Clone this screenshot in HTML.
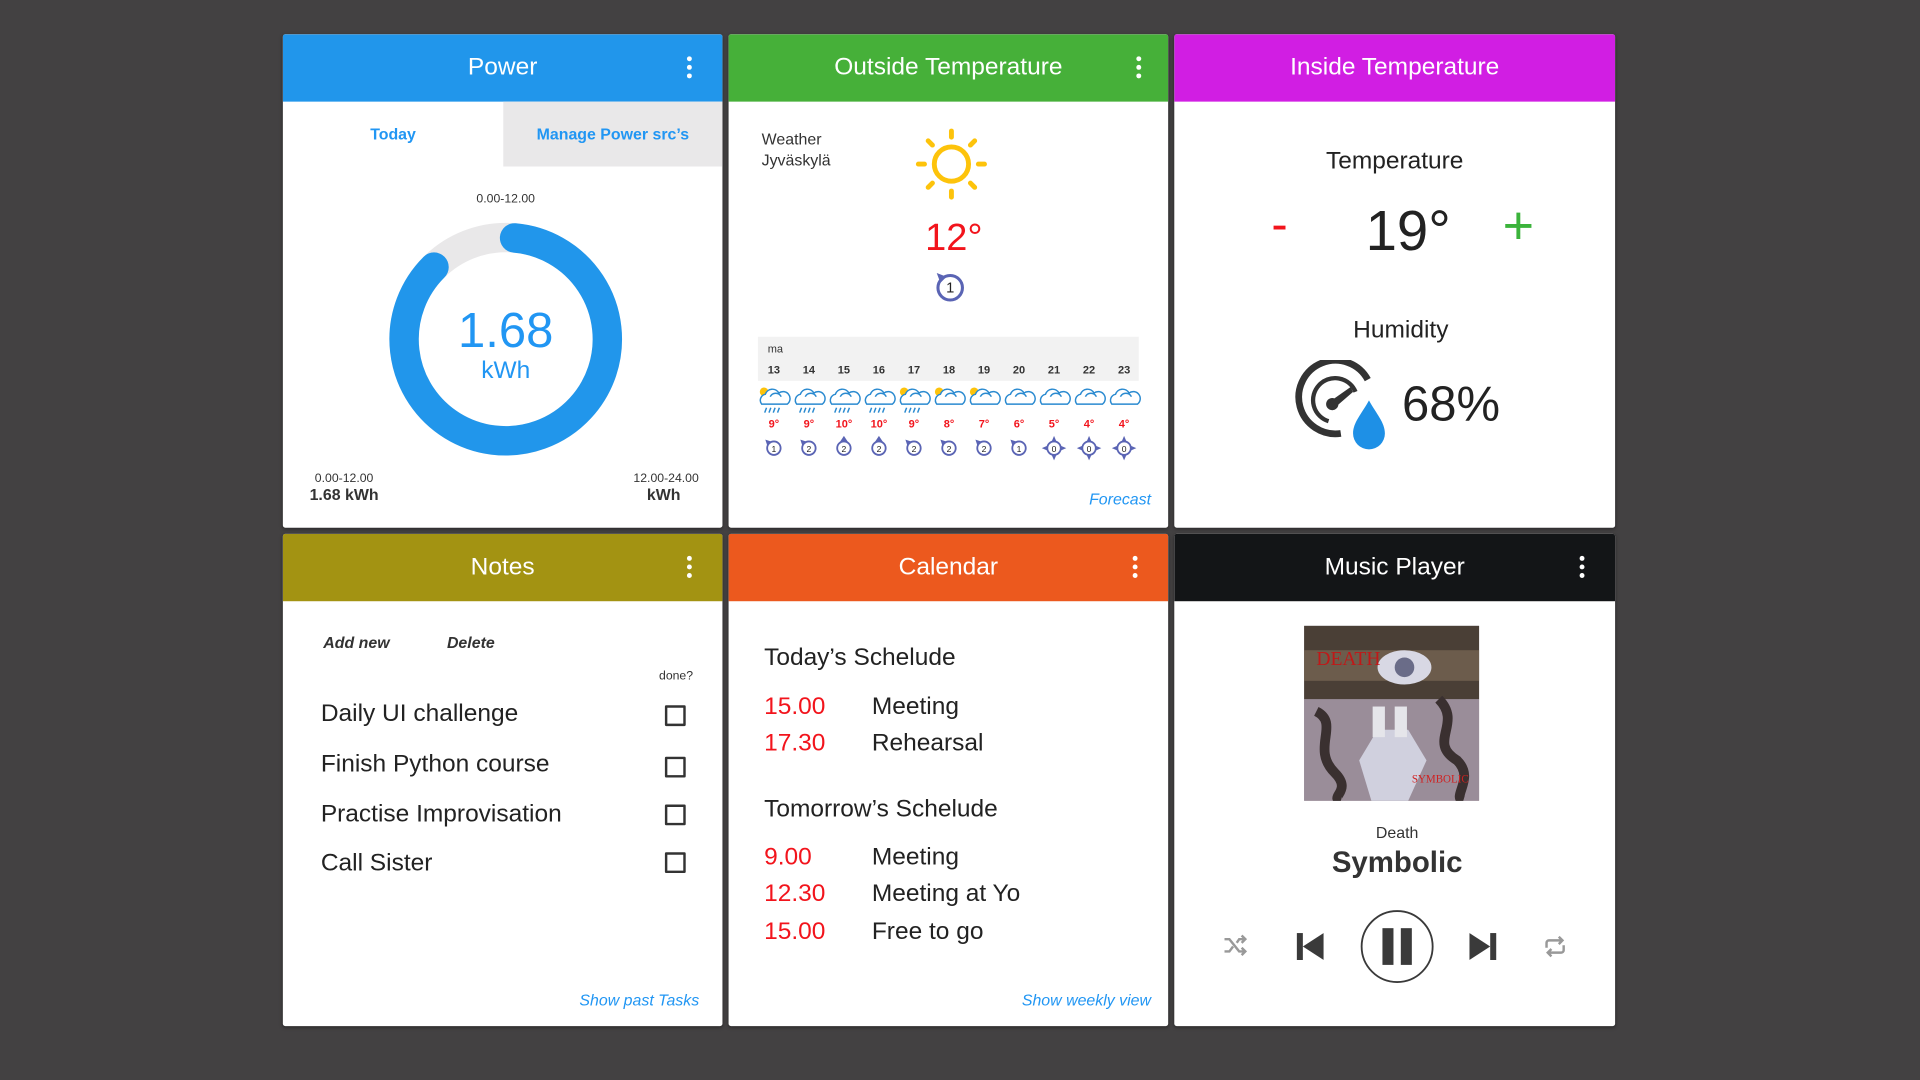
<!DOCTYPE html>
<html><head><meta charset="utf-8">
<style>
html,body{margin:0;padding:0;width:1920px;height:1080px;overflow:hidden;background:#434142;font-family:"Liberation Sans",sans-serif;}
#stage{position:absolute;left:0;top:0;width:1568px;height:882px;transform:scale(1.22449);transform-origin:0 0;}
.card{position:absolute;background:#fff;border-radius:2px;overflow:hidden;box-shadow:0 1px 3px rgba(0,0,0,.4);}
.hdr{position:absolute;left:0;top:0;right:0;height:55px;color:#fff;font-size:20px;line-height:55px;text-align:center;}
.keb{position:absolute;top:18px;width:4px;height:20px;}
.keb i{display:block;width:4px;height:4px;border-radius:2px;background:#fff;margin-bottom:3px;}
.t{position:absolute;white-space:nowrap;}
.c{transform:translate(-50%,-50%);}
.blue{color:#2196f3}
.red{color:#f2141c}
.cb{position:absolute;width:13px;height:13px;border:2px solid #333;border-radius:1px;}
</style></head><body>
<div id="stage">

<!-- Power -->
<div class="card" style="left:231px;top:28px;width:359px;height:403px;">
  <div class="hdr" style="background:#2196eb;">Power</div>
  <div class="keb" style="left:330px"><i></i><i></i><i></i></div>
  <div class="t" style="left:0;top:55px;width:180px;height:53px;line-height:53px;text-align:center;font-size:13px;font-weight:bold;color:#2196f3">Today</div>
  <div class="t" style="left:180px;top:55px;width:179px;height:53px;line-height:53px;text-align:center;font-size:13px;font-weight:bold;color:#2196f3;background:#e9e8e9">Manage Power src’s</div>
  <div class="t c" style="left:182px;top:135px;font-size:10px;color:#333">0.00-12.00</div>
  <svg id="donut" style="position:absolute;left:0;top:0" width="359" height="403"></svg>
  <div class="t c blue" style="left:182px;top:243px;font-size:40px">1.68</div>
  <div class="t c blue" style="left:182px;top:275px;font-size:20px">kWh</div>
  <div class="t c" style="left:50px;top:363px;font-size:10px;color:#333">0.00-12.00</div>
  <div class="t c" style="left:50px;top:376px;font-size:13px;font-weight:bold;color:#333">1.68 kWh</div>
  <div class="t c" style="left:313px;top:363px;font-size:10px;color:#333">12.00-24.00</div>
  <div class="t c" style="left:311px;top:376px;font-size:13px;font-weight:bold;color:#333">kWh</div>
</div>

<!-- Outside temperature -->
<div class="card" style="left:595px;top:28px;width:359px;height:403px;">
  <div class="hdr" style="background:#46b039;">Outside Temperature</div>
  <div class="keb" style="left:333px"><i></i><i></i><i></i></div>
  <div class="t" style="left:27px;top:77px;font-size:13px;line-height:17px;color:#333">Weather<br>Jyväskylä</div>
  <svg style="position:absolute;left:150px;top:74px" width="64" height="64" viewBox="-32 -32 64 64">
    <circle r="14" fill="none" stroke="#fdc30b" stroke-width="4"/>
    <g stroke="#fdc30b" stroke-width="4" stroke-linecap="round">
      <line x1="0" y1="-22" x2="0" y2="-27"/><line x1="0" y1="22" x2="0" y2="27"/>
      <line x1="-22" y1="0" x2="-27" y2="0"/><line x1="22" y1="0" x2="27" y2="0"/>
      <line x1="15.5" y1="-15.5" x2="19" y2="-19"/><line x1="-15.5" y1="-15.5" x2="-19" y2="-19"/>
      <line x1="15.5" y1="15.5" x2="19" y2="19"/><line x1="-15.5" y1="15.5" x2="-19" y2="19"/>
    </g>
  </svg>
  <div class="t c red" style="left:184px;top:166px;font-size:31px">12°</div>
  <svg style="position:absolute;left:166px;top:191px" width="28" height="28" viewBox="-14 -14 28 28">
    <circle cx="1" cy="2" r="10" fill="#fff" stroke="#5a64b4" stroke-width="2.5"/>
    <path d="M-10,-10 L-2,-7 L-7,-2Z" fill="#5a64b4"/>
    <text x="1" y="6" font-size="12" text-anchor="middle" fill="#222" font-family="Liberation Sans">1</text>
  </svg>
  <div style="position:absolute;left:24px;top:247px;width:311px;height:36px;background:#f2f2f2"></div>
  <div class="t" style="left:32px;top:252px;font-size:9px;color:#333">ma</div>
  <svg id="forecast" style="position:absolute;left:0;top:0" width="359" height="403"></svg>
  <div class="t blue" style="right:14px;top:372px;font-size:13px;font-style:italic">Forecast</div>
</div>

<!-- Inside temperature -->
<div class="card" style="left:959px;top:28px;width:360px;height:403px;">
  <div class="hdr" style="background:#d11ee3;">Inside Temperature</div>
  <div class="t c" style="left:180px;top:104px;font-size:20px;color:#222">Temperature</div>
  <div class="t c red" style="left:86px;top:156px;font-size:40px">-</div>
  <div class="t c" style="left:191px;top:160px;font-size:46px;color:#222">19°</div>
  <div class="t c" style="left:281px;top:157px;font-size:44px;color:#3bb33b">+</div>
  <div class="t c" style="left:185px;top:242px;font-size:20px;color:#222">Humidity</div>
  <svg style="position:absolute;left:96px;top:266px" width="82" height="82" viewBox="0 0 82 82">
    <path d="M40,60 A30,30 0 1 1 62,16" fill="none" stroke="#333" stroke-width="5.5"/>
    <path d="M30,50 A18,18 0 1 1 52,26" fill="none" stroke="#333" stroke-width="3.5"/>
    <circle cx="33" cy="36" r="5" fill="#333"/>
    <path d="M31,34 L48,22 L50,26 L35,39Z" fill="#333"/>
    <path d="M63,33 C57,44 50,51 50,60 A13,13 0 0 0 76,60 C76,51 69,44 63,33Z" fill="#1e90e6"/>
  </svg>
  <div class="t c" style="left:226px;top:303px;font-size:40px;color:#222">68%</div>
</div>

<!-- Notes -->
<div class="card" style="left:231px;top:436px;width:359px;height:402px;">
  <div class="hdr" style="background:#a39312;">Notes</div>
  <div class="keb" style="left:330px"><i></i><i></i><i></i></div>
  <div class="t" style="left:33px;top:81px;font-size:13px;font-weight:bold;font-style:italic;color:#333">Add new</div>
  <div class="t" style="left:134px;top:81px;font-size:13px;font-weight:bold;font-style:italic;color:#333">Delete</div>
  <div class="t" style="right:24px;top:111px;font-size:10px;color:#333">done?</div>
  <div class="t" style="left:31px;top:136px;font-size:20px;color:#222">Daily UI challenge</div>
  <div class="cb" style="left:312px;top:140px"></div>
  <div class="t" style="left:31px;top:177px;font-size:20px;color:#222">Finish Python course</div>
  <div class="cb" style="left:312px;top:182px"></div>
  <div class="t" style="left:31px;top:218px;font-size:20px;color:#222">Practise Improvisation</div>
  <div class="cb" style="left:312px;top:221px"></div>
  <div class="t" style="left:31px;top:258px;font-size:20px;color:#222">Call Sister</div>
  <div class="cb" style="left:312px;top:260px"></div>
  <div class="t blue" style="right:19px;top:373px;font-size:13px;font-style:italic">Show past Tasks</div>
</div>

<!-- Calendar -->
<div class="card" style="left:595px;top:436px;width:359px;height:402px;">
  <div class="hdr" style="background:#ec591e;">Calendar</div>
  <div class="keb" style="left:330px"><i></i><i></i><i></i></div>
  <div class="t" style="left:29px;top:90px;font-size:20px;color:#222">Today’s Schelude</div>
  <div class="t red" style="left:29px;top:130px;font-size:20px">15.00</div>
  <div class="t" style="left:117px;top:130px;font-size:20px;color:#222">Meeting</div>
  <div class="t red" style="left:29px;top:160px;font-size:20px">17.30</div>
  <div class="t" style="left:117px;top:160px;font-size:20px;color:#222">Rehearsal</div>
  <div class="t" style="left:29px;top:214px;font-size:20px;color:#222">Tomorrow’s Schelude</div>
  <div class="t red" style="left:29px;top:253px;font-size:20px">9.00</div>
  <div class="t" style="left:117px;top:253px;font-size:20px;color:#222">Meeting</div>
  <div class="t red" style="left:29px;top:283px;font-size:20px">12.30</div>
  <div class="t" style="left:117px;top:283px;font-size:20px;color:#222">Meeting at Yo</div>
  <div class="t red" style="left:29px;top:314px;font-size:20px">15.00</div>
  <div class="t" style="left:117px;top:314px;font-size:20px;color:#222">Free to go</div>
  <div class="t blue" style="right:14px;top:373px;font-size:13px;font-style:italic">Show weekly view</div>
</div>

<!-- Music -->
<div class="card" style="left:959px;top:436px;width:360px;height:402px;">
  <div class="hdr" style="background:#131517;">Music Player</div>
  <div class="keb" style="left:331px"><i></i><i></i><i></i></div>
  <svg style="position:absolute;left:106px;top:75px" width="143" height="143" viewBox="0 0 143 143">
    <rect width="143" height="143" fill="#8a7d86"/>
    <rect width="143" height="60" fill="#4a3f36"/>
    <rect y="20" width="143" height="25" fill="#7b6a55" opacity=".7"/>
    <rect y="60" width="143" height="83" fill="#9a8d99"/>
    <path d="M10,70 C30,80 5,100 25,120 C40,135 20,140 30,143" stroke="#3a3030" stroke-width="8" fill="none"/>
    <path d="M110,60 C130,80 100,95 125,110 C140,125 120,140 130,143" stroke="#3a3030" stroke-width="8" fill="none"/>
    <ellipse cx="82" cy="34" rx="22" ry="14" fill="#d8d8e4"/>
    <circle cx="82" cy="34" r="8" fill="#6a6c88"/>
    <path d="M45,110 L60,85 L85,85 L100,110 L85,143 L55,143Z" fill="#d0d0de"/>
    <rect x="56" y="66" width="10" height="25" fill="#e5e5ea"/><rect x="74" y="66" width="10" height="25" fill="#e5e5ea"/>
    <text x="10" y="32" font-size="16" fill="#c01818" font-family="Liberation Serif">DEATH</text>
    <text x="88" y="128" font-size="9" fill="#d02020" font-family="Liberation Serif">SYMBOLIC</text>
  </svg>
  <div class="t c" style="left:182px;top:244px;font-size:13px;color:#333">Death</div>
  <div class="t c" style="left:182px;top:269px;font-size:24px;font-weight:bold;color:#333">Symbolic</div>
  <svg style="position:absolute;left:40px;top:327px" width="20" height="18" viewBox="0 0 20 18"><path d="M1,4 H5 L13,14 H18 M1,14 H5 L8,10 M11,7 L13,4 H18 M15,1 L18,4 L15,7 M15,11 L18,14 L15,17" stroke="#999" stroke-width="2" fill="none"/></svg>
  <svg style="position:absolute;left:100px;top:326px" width="22" height="22" viewBox="0 0 22 22"><rect x="0" y="0" width="5" height="22" fill="#3a3a3a"/><path d="M22,0 L5,11 L22,22Z" fill="#3a3a3a"/></svg>
  <svg style="position:absolute;left:151px;top:306px" width="62" height="62" viewBox="0 0 62 62"><circle cx="31" cy="31" r="29" fill="none" stroke="#3a3a3a" stroke-width="1.5"/><rect x="19" y="16" width="9" height="30" fill="#3a3a3a"/><rect x="34" y="16" width="9" height="30" fill="#3a3a3a"/></svg>
  <svg style="position:absolute;left:241px;top:326px" width="22" height="22" viewBox="0 0 22 22"><path d="M0,0 L17,11 L0,22Z" fill="#3a3a3a"/><rect x="17" y="0" width="5" height="22" fill="#3a3a3a"/></svg>
  <svg style="position:absolute;left:301px;top:328px" width="20" height="18" viewBox="0 0 20 18"><path d="M3,10 V6 A2,2 0 0 1 5,4 H16 M13,1 L16,4 L13,7 M17,8 V12 A2,2 0 0 1 15,14 H4 M7,11 L4,14 L7,17" stroke="#999" stroke-width="2" fill="none"/></svg>
</div>

</div>
<script>
// Power donut data
const powerTotal = [1.68];
const powerMax = [1.95];
const powerStartDeg = [5];

// Forecast data
const hours = ["13","14","15","16","17","18","19","20","21","22","23"];
const temps = [9,9,10,10,9,8,7,6,5,4,4];
const winds = [1,2,2,2,2,2,2,1,0,0,0];
const windDir = ["nw","nw","n","n","nw","nw","nw","nw","calm","calm","calm"];
const sunny = [1,0,0,0,1,1,1,0,0,0,0];
const rain = [1,1,1,1,1,0,0,0,0,0,0];

const NS='http://www.w3.org/2000/svg';
function mk(tag, attrs, parent){const e=document.createElementNS(NS,tag);for(const k in attrs)e.setAttribute(k,attrs[k]);parent.appendChild(e);return e;}

// donut
(function(){
  const svg=document.getElementById('donut');
  const cx=182,cy=249,r=83;
  const track=mk('circle',{cx:cx,cy:cy,r:r,fill:'none',stroke:'#e9e8e9','stroke-width':24},svg);
  
  
  const frac=powerTotal[0]/powerMax[0];
  const a0=powerStartDeg[0]*Math.PI/180, a1=a0+frac*2*Math.PI;
  const p=(a)=>[cx+r*Math.sin(a),cy-r*Math.cos(a)];
  const [x0,y0]=p(a0),[x1,y1]=p(a1);
  const large=frac>0.5?1:0;
  const arc=mk('path',{d:`M${x0},${y0} A${r},${r} 0 ${large} 1 ${x1},${y1}`,fill:'none',stroke:'#2196eb','stroke-width':24,'stroke-linecap':'round'},svg);
  
  
})();

// forecast
(function(){
  const svg=document.getElementById('forecast');
  const x=(i)=>37+i*28.6;
  hours.forEach((h,i)=>{
    const cx=x(i);
    const ht=mk('text',{x:cx,y:277,'font-size':9,'font-weight':'bold','text-anchor':'middle',fill:'#333','font-family':'Liberation Sans'},svg);
    ht.textContent=h;
    
    
    const g=mk('g',{transform:`translate(${cx},297)`},svg);
    
    
    if(sunny[i]){mk('circle',{cx:-8,cy:-5,r:3.5,fill:'#fdc30b'},g);}
    mk('path',{d:'M-10,5 A5,5 0 0 1 -7,-3 A6,6 0 0 1 4,-4 A5,5 0 0 1 11,5Z',fill:'#fff',stroke:'#2a8ad0','stroke-width':1.2},g);
    mk('path',{d:'M-3,-1 A5,5 0 0 1 6,-1',fill:'none',stroke:'#2a8ad0','stroke-width':1.2},g);
    if(rain[i]){for(let k=0;k<4;k++)mk('line',{x1:-6+k*3.5,y1:8,x2:-7.5+k*3.5,y2:12,stroke:'#2a8ad0','stroke-width':1.2},g);}
    const tt=mk('text',{x:cx,y:321,'font-size':9,'font-weight':'bold','text-anchor':'middle',fill:'#f2141c','font-family':'Liberation Sans'},svg);
    tt.textContent=temps[i]+'°';
    
    
    const w=mk('g',{transform:`translate(${cx},338)`},svg);
    
    
    if(windDir[i]==='calm'){mk('path',{d:'M0,-10 L3,-3 L10,0 L3,3 L0,10 L-3,3 L-10,0 L-3,-3Z',fill:'#5a64b4'},w);}
    else if(windDir[i]==='n'){mk('path',{d:'M0,-10 L-4,-4 L4,-4Z',fill:'#5a64b4'},w);}
    else{mk('path',{d:'M-7,-7 L-1,-5 L-5,-1Z',fill:'#5a64b4'},w);}
    mk('circle',{r:5.5,fill:'#fff',stroke:'#5a64b4','stroke-width':1.5},w);
    const wt=mk('text',{y:3,'font-size':7,'text-anchor':'middle',fill:'#222','font-family':'Liberation Sans'},w);
    wt.textContent=winds[i];
  });
})();
</script>
</body></html>
